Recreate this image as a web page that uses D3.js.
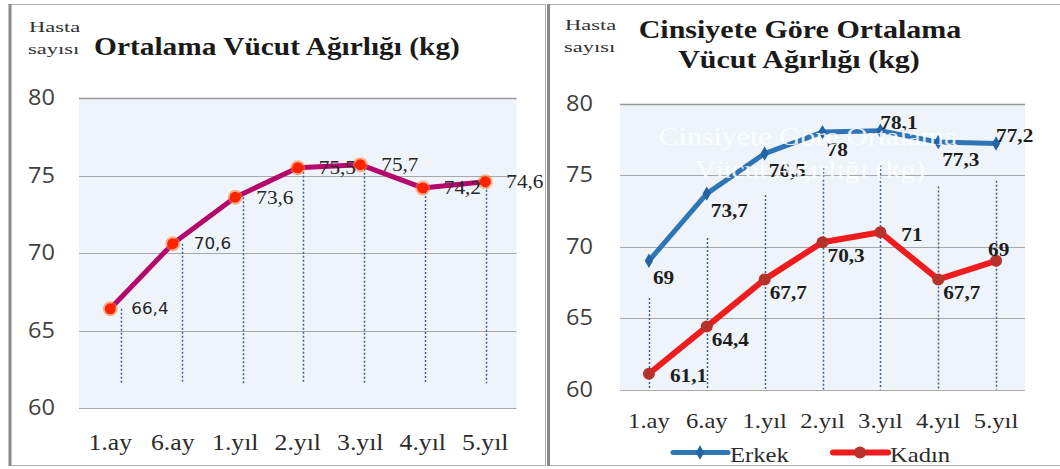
<!DOCTYPE html>
<html>
<head>
<meta charset="utf-8">
<script src="https://cdn.jsdelivr.net/npm/d3@7"></script>
<style>
  body { margin: 0; background: #fff; }
  svg { display: block; }
</style>
</head>
<body>
<svg id="chart" width="1060" height="469"></svg>
<script>
// ---- data ----
const categories = ["1.ay", "6.ay", "1.yıl", "2.yıl", "3.yıl", "4.yıl", "5.yıl"];
const overall = [66.4, 70.6, 73.6, 75.5, 75.7, 74.2, 74.6];
const male = [69, 73.7, 76.5, 78, 78.1, 77.3, 77.2];
const female = [61.1, 64.4, 67.7, 70.3, 71, 67.7, 69];
const yTicks = [60, 65, 70, 75, 80];
const seriesNames = ["Erkek", "Kadın"];
const leftTitle = ["Ortalama Vücut Ağırlığı (kg)"];
const rightTitle = ["Cinsiyete Göre Ortalama", "Vücut Ağırlığı (kg)"];
const axisNote = ["Hasta", "sayısı"];

// where each value label sits relative to its marker
const malePlace = ["below", "below", "below", "below", "above", "below", "above"];
const femalePlace = ["right", "below", "below", "below", "right", "below", "above"];
// typeface used by each value label of the left chart
const overallLabelFace = ["sans", "sans", "serif", "serif", "serif", "serif", "serif"];

const SERIF = "'Liberation Serif', 'Times New Roman', serif";
const SANS = "'Open Sans', 'Liberation Sans', sans-serif";
const LABEL_SANS = "'DejaVu Sans', Verdana, sans-serif";
const SX = 1.12;               // horizontal stretch applied to text
const fmt = v => String(v).replace(".", ",");

const svg = d3.select("#chart");

function txt(parent, x, y, s, o) {
  const t = parent.append("text")
    .attr("transform", `translate(${x},${y}) scale(${o.sx || SX},1)`)
    .attr("text-anchor", o.anchor || "start")
    .attr("font-family", o.family || SERIF)
    .attr("font-size", o.size)
    .attr("font-weight", o.weight || "normal")
    .attr("fill", o.fill || "#222")
    .text(s);
  if (o.baseline) t.attr("dominant-baseline", o.baseline);
  if (o.opacity != null) t.attr("opacity", o.opacity);
  return t;
}

// ---- panel frames ----
svg.append("rect").attr("x", 10.5).attr("y", 4.5).attr("width", 535).attr("height", 461)
  .attr("fill", "#fff").attr("stroke", "#b0b0b0");
svg.append("line").attr("x1", 10).attr("x2", 10).attr("y1", 4).attr("y2", 466)
  .attr("stroke", "#8a8a8a").attr("stroke-width", 3);
svg.append("rect").attr("x", 548.5).attr("y", 4.5).attr("width", 520).attr("height", 461)
  .attr("fill", "#fff").attr("stroke", "#b0b0b0");
svg.append("line").attr("x1", 548.5).attr("x2", 548.5).attr("y1", 4).attr("y2", 466)
  .attr("stroke", "#8a8a8a").attr("stroke-width", 3);

function styleAxis(g, family, size, fill) {
  g.select(".domain").remove();
  g.selectAll("text")
    .attr("font-family", family)
    .attr("font-size", size)
    .attr("fill", fill)
    .attr("transform", `scale(${SX},1)`);
}

function drawPlotFrame(g, x, y, bg) {
  const [x0, x1] = x.range();
  g.append("rect")
    .attr("x", x0).attr("y", y(80))
    .attr("width", x1 - x0).attr("height", y(60) - y(80))
    .attr("fill", bg);
  g.append("g").selectAll("line").data(yTicks).join("line")
    .attr("x1", x0).attr("x2", x1)
    .attr("y1", d => Math.round(y(d)) + 0.5).attr("y2", d => Math.round(y(d)) + 0.5)
    .attr("stroke", d => d === 80 ? "#9a9a9a" : "#a8a8a8")
    .attr("stroke-width", d => d === 80 ? 1.6 : 1);
}

const DROP = { stroke: "#3f6194", width: 1.5, dash: "2,2" };

// ================= left chart =================
const gL = svg.append("g");
const xL = d3.scaleBand().domain(categories).range([79, 516.5]);
const yL = d3.scaleLinear().domain([60, 80]).range([408, 98]);
const cxL = c => xL(c) + xL.bandwidth() / 2;
const dropL = d3.scalePoint().domain(categories).range([121, 485.5]);

drawPlotFrame(gL, xL, yL, "#eef4fa");

// dotted drop lines
gL.append("g").selectAll("line").data(overall).join("line")
  .attr("x1", (d, i) => Math.round(dropL(categories[i])) + 0.5)
  .attr("x2", (d, i) => Math.round(dropL(categories[i])) + 0.5)
  .attr("y1", d => yL(d)).attr("y2", yL(61.6))
  .attr("stroke", DROP.stroke).attr("stroke-width", DROP.width).attr("stroke-dasharray", DROP.dash);

// axes
gL.append("g").attr("transform", "translate(55,0)")
  .call(d3.axisLeft(yL).tickValues(yTicks).tickSize(0).tickPadding(0).tickFormat(d3.format("d")))
  .call(g => styleAxis(g, SANS, 21, "#404040"));
gL.append("g").attr("transform", `translate(0,${yL(60)})`)
  .call(d3.axisBottom(xL).tickSize(0).tickPadding(26))
  .call(g => styleAxis(g, SERIF, 23, "#2b2b2b"));

// series line + markers
const lineL = d3.line().x((d, i) => cxL(categories[i])).y(d => yL(d));
gL.append("path").datum(overall).attr("d", lineL)
  .attr("fill", "none").attr("stroke", "#b5086c").attr("stroke-width", 5)
  .attr("stroke-linejoin", "round");
gL.append("g").selectAll("circle.halo").data(overall).join("circle")
  .attr("cx", (d, i) => cxL(categories[i])).attr("cy", d => yL(d))
  .attr("r", 7.5).attr("fill", "#ff7a2a").attr("opacity", 0.55);
gL.append("g").selectAll("circle.dot").data(overall).join("circle")
  .attr("cx", (d, i) => cxL(categories[i])).attr("cy", d => yL(d))
  .attr("r", 5.5).attr("fill", "#ff2200");

// value labels
overall.forEach((v, i) => {
  const sans = overallLabelFace[i] === "sans";
  txt(gL, cxL(categories[i]) + 21, yL(v), fmt(v), {
    size: sans ? 16 : 19, family: sans ? LABEL_SANS : SERIF,
    sx: sans ? 1.05 : SX, fill: "#262626", baseline: "central"
  });
});

// titles
txt(gL, 277, 55, leftTitle[0], { size: 26, weight: "bold", anchor: "middle", fill: "#1a1a1a", sx: 1.13 });
txt(gL, 29, 32, axisNote[0], { size: 15, fill: "#333", sx: 1.5 });
txt(gL, 28, 54, axisNote[1], { size: 15, fill: "#333", sx: 1.5 });

// ================= right chart =================
const gR = svg.append("g");
const xR = d3.scaleBand().domain(categories).range([620, 1025]);
const yR = d3.scaleLinear().domain([60, 80]).range([389.5, 103.5]);
const cxR = c => xR(c) + xR.bandwidth() / 2;

drawPlotFrame(gR, xR, yR, "#eef4fa");

gR.append("g").selectAll("line").data(overall).join("line")
  .attr("x1", (d, i) => Math.round(cxR(categories[i])) + 0.5)
  .attr("x2", (d, i) => Math.round(cxR(categories[i])) + 0.5)
  .attr("y1", d => yR(d)).attr("y2", yR(60))
  .attr("stroke", DROP.stroke).attr("stroke-width", DROP.width).attr("stroke-dasharray", DROP.dash);

gR.append("g").attr("transform", "translate(593,0)")
  .call(d3.axisLeft(yR).tickValues(yTicks).tickSize(0).tickPadding(0).tickFormat(d3.format("d")))
  .call(g => styleAxis(g, SANS, 21, "#404040"));
gR.append("g").attr("transform", `translate(0,${yR(60)})`)
  .call(d3.axisBottom(xR).tickSize(0).tickPadding(23))
  .call(g => styleAxis(g, SERIF, 22, "#2b2b2b"));

const lineR = d3.line().x((d, i) => cxR(categories[i])).y(d => yR(d));
const MALE = "#2e75b6", FEMALE = "#ee1c1c";

gR.append("path").datum(male).attr("d", lineR)
  .attr("fill", "none").attr("stroke", MALE).attr("stroke-width", 5).attr("stroke-linejoin", "round");
gR.append("path").datum(female).attr("d", lineR)
  .attr("fill", "none").attr("stroke", FEMALE).attr("stroke-width", 6).attr("stroke-linejoin", "round");

const diamond = d3.symbol().type(d3.symbolDiamond).size(60);
gR.append("g").selectAll("path").data(male).join("path")
  .attr("d", diamond)
  .attr("transform", (d, i) => `translate(${cxR(categories[i])},${yR(d)})`)
  .attr("fill", "#2462a6");
gR.append("g").selectAll("circle").data(female).join("circle")
  .attr("cx", (d, i) => cxR(categories[i])).attr("cy", d => yR(d))
  .attr("r", 6).attr("fill", "#b8322c");

const maleOff = { below: [4, 17], above: [0, -8] };
const femaleOff = { below: [5, 13], right: [21, 2], above: [-8, -11] };
male.forEach((v, i) => {
  const [dx, dy] = maleOff[malePlace[i]];
  txt(gR, cxR(categories[i]) + dx, yR(v) + dy, fmt(v), { size: 19, weight: "bold", fill: "#1e1e1e", baseline: "central" });
});
female.forEach((v, i) => {
  const [dx, dy] = femaleOff[femalePlace[i]];
  txt(gR, cxR(categories[i]) + dx, yR(v) + dy, fmt(v), { size: 19, weight: "bold", fill: "#1e1e1e", baseline: "central" });
});

// faint white caption lying over the plot
txt(gR, 808, 145, rightTitle[0], { size: 26, anchor: "middle", fill: "#ffffff", opacity: 0.85, sx: 1.15 });
txt(gR, 810, 178, rightTitle[1], { size: 26, anchor: "middle", fill: "#ffffff", opacity: 0.85, sx: 1.15 });

// titles
txt(gR, 800, 38, rightTitle[0], { size: 25, weight: "bold", anchor: "middle", fill: "#1a1a1a", sx: 1.2 });
txt(gR, 799, 68, rightTitle[1], { size: 25, weight: "bold", anchor: "middle", fill: "#1a1a1a", sx: 1.2 });
txt(gR, 565, 30, axisNote[0], { size: 15, fill: "#333", sx: 1.5 });
txt(gR, 564, 52, axisNote[1], { size: 15, fill: "#333", sx: 1.5 });

// legend
const legend = gR.append("g");
const legendItems = [
  { name: seriesNames[0], color: MALE, x: 673, mark: "diamond", mcol: "#2462a6" },
  { name: seriesNames[1], color: FEMALE, x: 833, mark: "circle", mcol: "#b8322c" }
];
legendItems.forEach(it => {
  legend.append("line").attr("x1", it.x).attr("x2", it.x + 55).attr("y1", 452.5).attr("y2", 452.5)
    .attr("stroke", it.color).attr("stroke-width", it.mark === "circle" ? 6 : 5).attr("stroke-linecap", "round");
  if (it.mark === "diamond") {
    legend.append("path").attr("d", diamond).attr("transform", `translate(${it.x + 27},452.5)`).attr("fill", it.mcol);
  } else {
    legend.append("circle").attr("cx", it.x + 27).attr("cy", 452.5).attr("r", 6).attr("fill", it.mcol);
  }
  txt(legend, it.x + 57, 461.5, it.name, { size: 22, fill: "#2b2b2b" });
});
</script>
</body>
</html>
